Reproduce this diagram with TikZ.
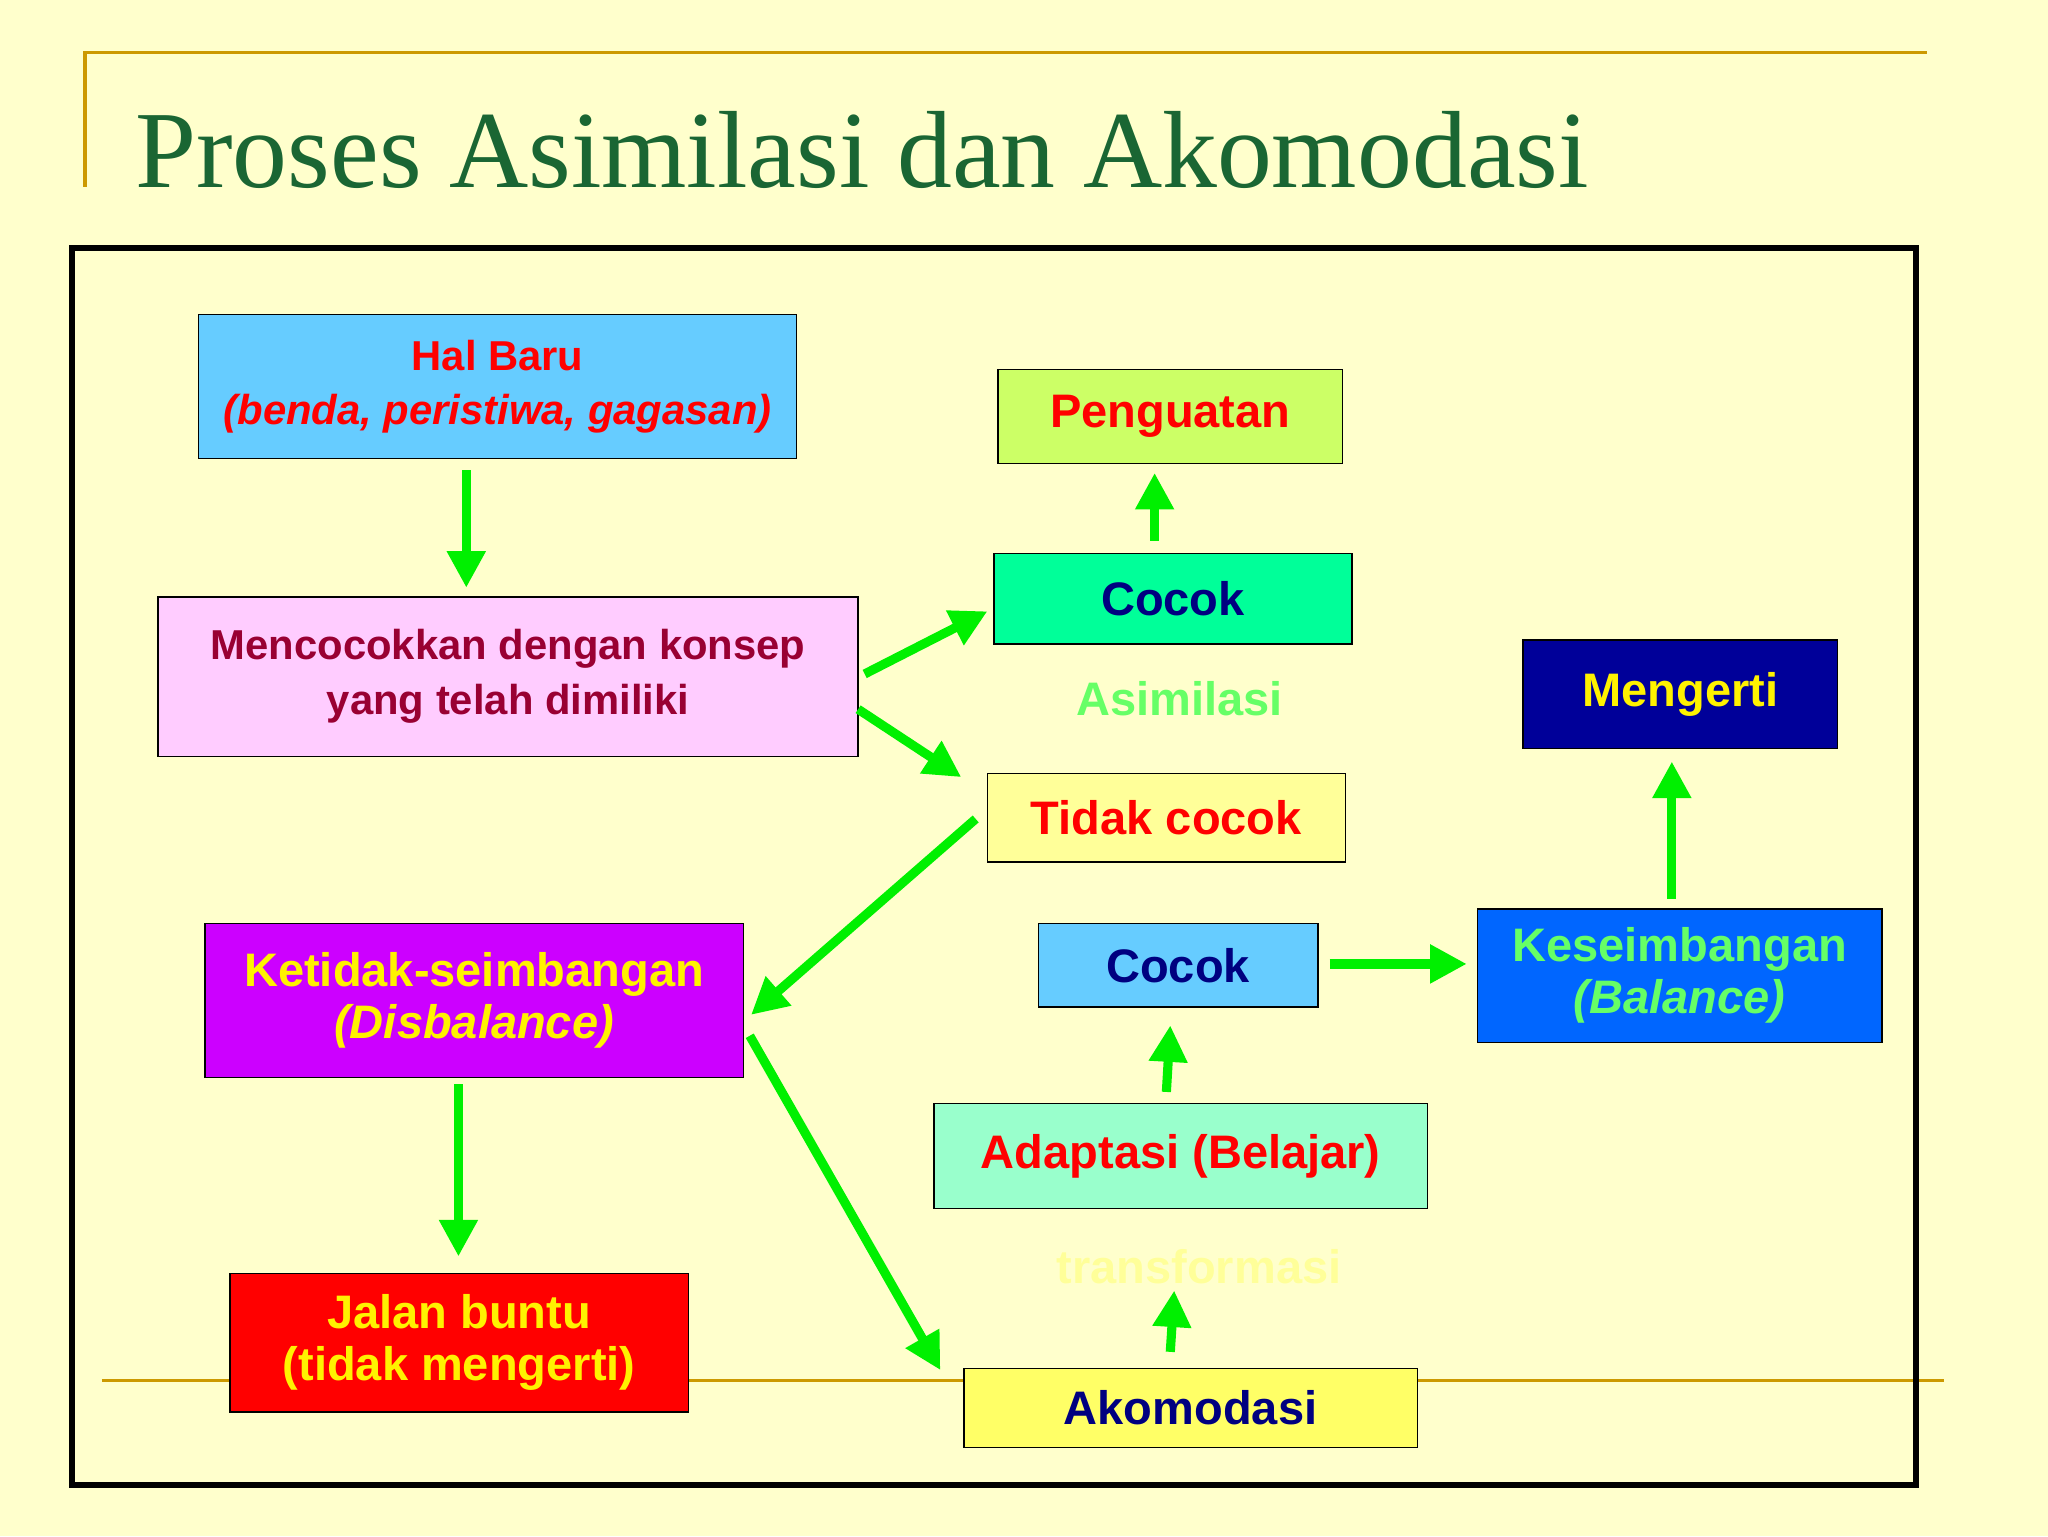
\documentclass[tikz,border=0pt]{standalone}
\usepackage{fontspec}
\setmainfont{Liberation Sans}
\newfontfamily\titlefont{Liberation Serif}
\usetikzlibrary{arrows.meta}
\definecolor{bg}{HTML}{FFFFCC}
\definecolor{gold}{HTML}{CC9900}
\definecolor{arr}{HTML}{00F000}
\definecolor{navy}{HTML}{000080}
\definecolor{lgreen}{HTML}{66FF66}
\definecolor{cA}{HTML}{66CCFF}
\definecolor{cB}{HTML}{FFCCFF}
\definecolor{cBt}{HTML}{990033}
\definecolor{cC}{HTML}{CCFF66}
\definecolor{cD}{HTML}{00FF99}
\definecolor{cE}{HTML}{000099}
\definecolor{cF}{HTML}{FFFF99}
\definecolor{cG}{HTML}{CC00FF}
\definecolor{cH}{HTML}{0066FF}
\definecolor{cI}{HTML}{99FFCC}
\definecolor{cJ}{HTML}{FFFF66}
\definecolor{ttl}{HTML}{1A6633}
\tikzset{
 bx/.style={draw=black,line width=1pt,inner sep=0pt,align=center,font=\fontsize{32}{40}\selectfont\bfseries},
 ar/.style={draw=arr,line width=7pt,-{Triangle[length=28pt,width=28pt]}}
}
\newcommand{\bxat}[6]{\node[bx,fill=#5,text=#6,minimum width=#3pt-#1pt,minimum height=#4pt-#2pt] at ({(#1+#3)/2},{(#2+#4)/2})}
\begin{document}
\begin{tikzpicture}[x=1pt,y=-1pt]
\fill[bg] (0,0) rectangle (1568,1176);
\useasboundingbox (0,0) rectangle (1568,1176);
\draw[gold,line width=2.5pt] (65,143) -- (65,40) -- (1475,40);
\draw[gold,line width=2.5pt] (78,1057) -- (1488,1057);
\node[anchor=west,text=ttl,font=\titlefont\fontsize{84}{90}\selectfont] (title) at (100,115) {Proses Asimilasi dan Akomodasi};
\draw[black,line width=5pt] (55,190) rectangle (1467,1137);

\bxat{152}{241}{610}{351}{cA}{red} (hal) {Hal Baru\\[2pt]\itshape(benda, peristiwa, gagasan)};
\bxat{121}{457}{657}{579}{cB}{cBt} (mc) {Mencocokkan dengan konsep\\[2pt]yang telah dimiliki};
\bxat{764}{283}{1028}{355}{cC}{red} (peng) {\fontsize{36}{40}\selectfont Penguatan};
\bxat{761}{424}{1035}{493}{cD}{navy} (c1) {\fontsize{36}{40}\selectfont Cocok};
\node[text=lgreen,font=\fontsize{36}{40}\selectfont\bfseries] (asim) at (903,535) {Asimilasi};
\bxat{1166}{490}{1407}{573}{cE}{yellow} (meng) {\fontsize{36}{40}\selectfont Mengerti};
\bxat{756}{592}{1030}{660}{cF}{red} (tc) {\fontsize{36}{40}\selectfont Tidak cocok};
\bxat{157}{707}{569}{825}{cG}{yellow} (ket) {\fontsize{36}{46}\selectfont Ketidak-seimbangan\\\fontsize{36}{46}\selectfont\itshape(Disbalance)};
\bxat{795}{707}{1009}{771}{cA}{navy} (c2) {\fontsize{36}{40}\selectfont Cocok};
\bxat{1131}{696}{1441}{798}{cH}{lgreen} (kes) {\fontsize{36}{46}\selectfont Keseimbangan\\\fontsize{36}{46}\selectfont\itshape(Balance)};
\bxat{715}{845}{1093}{925}{cI}{red} (adap) {\fontsize{36}{40}\selectfont Adaptasi (Belajar)};
\node[text=cF,font=\fontsize{36}{40}\selectfont\bfseries] (trans) at (918,970) {transformasi};
\bxat{176}{975}{527}{1081}{red}{yellow} (jal) {\fontsize{36}{46}\selectfont Jalan buntu\\\fontsize{36}{46}\selectfont(tidak mengerti)};
\bxat{738}{1048}{1085}{1108}{cJ}{navy} (ako) {\fontsize{36}{40}\selectfont Akomodasi};

\coordinate (a1s) at (357,360); \coordinate (a1e) at (357,450);
\coordinate (a2s) at (662,516); \coordinate (a2e) at (756,468);
\coordinate (a3s) at (657,543); \coordinate (a3e) at (736,595);
\coordinate (a4s) at (884,414); \coordinate (a4e) at (884,362);
\coordinate (a5s) at (747,627); \coordinate (a5e) at (575,777);
\coordinate (a6s) at (351,830); \coordinate (a6e) at (351,962);
\coordinate (a7s) at (574,793); \coordinate (a7e) at (720,1049);
\coordinate (a8s) at (1280,688); \coordinate (a8e) at (1280,583);
\coordinate (a9s) at (1018,738); \coordinate (a9e) at (1123,738);
\coordinate (a10s) at (893,836); \coordinate (a10e) at (896,785);
\coordinate (a11s) at (896,1035); \coordinate (a11e) at (899,988);
\foreach \i in {1,...,11} \draw[ar] (a\i s) -- (a\i e);
\end{tikzpicture}
\end{document}
